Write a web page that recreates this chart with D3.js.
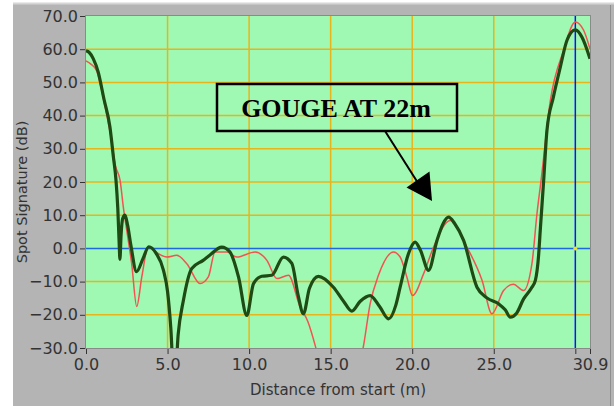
<!DOCTYPE html>
<html>
<head>
<meta charset="UTF-8">
<script src="https://d3js.org/d3.v7.min.js"></script>
<style>
  body { margin: 0; background: #fff; }
  svg { display: block; }
</style>
</head>
<body>
<svg id="chart" width="614" height="406"></svg>
<script>
  // valeurs
  const greenDist = [0, 0.2, 0.45, 0.75, 1.1, 1.47, 1.68, 1.84, 1.95, 2.03, 2.08, 2.15, 2.25, 2.39, 2.55, 2.75, 3.1, 3.5, 3.85, 4.3, 4.75, 5.0, 5.2, 5.35, 5.5, 5.65, 5.97, 6.48, 7.18, 7.6, 8.32, 8.83, 9.35, 9.86, 10.27, 10.78, 11.39, 12.1, 12.62, 13.0, 13.33, 13.7, 14.25, 15.17, 15.8, 16.3, 16.8, 17.42, 18.0, 18.55, 19.0, 19.26, 19.77, 20.18, 20.5, 21.0, 21.52, 21.9, 22.23, 22.6, 23.15, 23.97, 24.58, 25.3, 25.7, 26.01, 26.4, 26.83, 27.3, 27.55, 27.75, 27.85, 28.06, 28.26, 28.65, 29.08, 29.49, 30.0, 30.41, 30.9];
  const greenDb   = [59.5, 59, 57.1, 53.1, 45, 36.5, 27.5, 20.5, 12, 2, -3.3, 4, 9, 10, 7, 1, -7, -3, 0.5, -1.5, -6.6, -13, -24, -36, -36, -26, -15.7, -6.1, -3.6, -2, 0.4, -1.1, -8.6, -20.2, -10.6, -8.4, -8.1, -2.6, -4.5, -14, -19.7, -12, -8.4, -11.7, -16, -18.9, -16, -14.2, -17.5, -21.2, -17, -11.7, -1.6, 1.9, -0.5, -6.6, 2.4, 7.5, 9.4, 7.5, 2.4, -11.7, -14.9, -16.7, -18.5, -20.7, -19.5, -15.2, -12, -9.6, -2, 5.4, 20.5, 35.5, 45.5, 54.6, 62.7, 65.8, 63.6, 57.1];

  const redDist = [0, 0.3, 0.65, 0.9, 1.2, 1.55, 1.8, 2.09, 2.3, 2.5, 2.8, 3.11, 3.42, 3.82, 4.44, 4.95, 5.56, 6.18, 7.0, 7.5, 7.91, 8.63, 9.25, 10.37, 11.09, 11.7, 12.41, 13.13, 13.6, 14.05, 14.4, 15.5, 16.6, 17.0, 17.42, 17.93, 18.85, 19.26, 19.67, 20.02, 20.7, 21.31, 22.33, 23.35, 24.28, 24.89, 25.6, 26.2, 26.83, 27.34, 27.65, 27.9, 28.47, 29.28, 30.0, 30.51, 30.9];
  const redDb   = [56.5, 55.5, 53.5, 49, 42, 33, 25, 20.5, 12, 5.4, -4.6, -17.5, -8.6, 0.6, -1.6, -2.6, -2.1, -4.6, -10.6, -8.6, -1.1, -1.1, -2.6, -1.1, -3.6, -9.1, -8.1, -17.7, -22, -29.2, -36, -42, -38, -29.7, -16.7, -8.1, -1.1, -2.6, -8.6, -14.2, -7.6, 0.4, 8.4, 0.4, -9.6, -19.7, -12.7, -10.8, -12.7, -4.6, 10.5, 20.5, 44.6, 59.6, 68.2, 65.7, 60.1];

  const xTickVals   = [0, 5, 10, 15, 20, 25, 30, 30.9];
  const xTickLabels = ["0.0", "5.0", "10.0", "15.0", "20.0", "25.0", "", "30.9"];
  const yTickVals   = [-30, -20, -10, 0, 10, 20, 30, 40, 50, 60, 70];
  const xGridVals   = [5, 10, 15, 20, 25];
  const yGridVals   = [-20, -10, 10, 20, 30, 40, 50, 60];
  const cursorX = 30, cursorY = 0;

  const svg = d3.select("#chart");
  const pL = 86, pR = 590, pT = 16, pB = 348;

  const x = d3.scaleLinear().domain([0, 30.9]).range([pL, pR]);
  const y = d3.scaleLinear().domain([-30, 70]).range([pB, pT]);

  // panneau gris
  svg.append("rect").attr("x", 13).attr("y", 3).attr("width", 601).attr("height", 403).attr("fill", "#b4b4b4");
  svg.append("line").attr("x1", 13).attr("x2", 614).attr("y1", 3.5).attr("y2", 3.5).attr("stroke", "#d6d6d6").attr("stroke-width", 2);
  svg.append("line").attr("x1", 610.5).attr("x2", 610.5).attr("y1", 5).attr("y2", 406).attr("stroke", "#8e8e8e");

  // zone de tracé
  svg.append("rect").attr("x", pL).attr("y", pT).attr("width", pR - pL).attr("height", pB - pT)
    .attr("fill", "#a0f9b2");

  svg.append("defs").append("clipPath").attr("id", "clip")
    .append("rect").attr("x", pL).attr("y", pT).attr("width", pR - pL).attr("height", pB - pT);

  const grid = svg.append("g").attr("stroke", "#e8b41c").attr("stroke-width", 1.5);
  grid.selectAll(".vx").data(xGridVals).join("line")
    .attr("x1", d => x(d)).attr("x2", d => x(d)).attr("y1", pT).attr("y2", pB);
  grid.selectAll(".hy").data(yGridVals).join("line")
    .attr("x1", pL).attr("x2", pR).attr("y1", d => y(d)).attr("y2", d => y(d));

  // curseurs
  svg.append("line").attr("x1", pL).attr("x2", pR).attr("y1", y(cursorY)).attr("y2", y(cursorY))
    .attr("stroke", "#1f66e0").attr("stroke-width", 1.5);
  svg.append("line").attr("x1", x(cursorX)).attr("x2", x(cursorX)).attr("y1", pT).attr("y2", pB)
    .attr("stroke", "#0a14ff").attr("stroke-width", 1.5);
  svg.append("circle").attr("cx", x(cursorX)).attr("cy", y(cursorY)).attr("r", 2).attr("fill", "#f0e020");

  const line = d3.line().x(d => x(d[0])).y(d => y(d[1])).curve(d3.curveMonotoneX);

  svg.append("path").datum(d3.zip(redDist, redDb))
    .attr("clip-path", "url(#clip)")
    .attr("fill", "none").attr("stroke", "#f25252").attr("stroke-width", 1.5)
    .attr("d", line);

  svg.append("path").datum(d3.zip(greenDist, greenDb))
    .attr("clip-path", "url(#clip)")
    .attr("fill", "none").attr("stroke", "#1e4a14").attr("stroke-width", 3.2)
    .attr("stroke-linejoin", "round")
    .attr("d", line);

  // bord du tracé
  svg.append("rect").attr("x", pL - 0.5).attr("y", pT - 0.5).attr("width", pR - pL + 1).attr("height", pB - pT + 1)
    .attr("fill", "none").attr("stroke", "#8a8a8a");

  // axes
  const yAxis = d3.axisLeft(y).tickValues(yTickVals).tickFormat(d3.format(".1f")).tickSize(5).tickPadding(2);
  const gy = svg.append("g").attr("transform", `translate(${pL - 1},0)`).call(yAxis);
  const xAxis = d3.axisBottom(x).tickValues(xTickVals).tickFormat((d, i) => xTickLabels[i]).tickSize(5).tickPadding(5);
  const gx = svg.append("g").attr("transform", `translate(0,${pB + 1})`).call(xAxis);

  [gx, gy].forEach(g => {
    g.select(".domain").remove();
    g.selectAll("line").attr("stroke", "#333");
    g.selectAll("text").attr("fill", "#333").style("font-family", "DejaVu Sans").style("font-size", "16px");
  });

  svg.append("text").attr("x", (pL + pR) / 2).attr("y", 395).attr("text-anchor", "middle")
    .style("font-family", "DejaVu Sans").style("font-size", "15px").attr("fill", "#333")
    .text("Distance from start (m)");
  svg.append("text").attr("transform", "translate(27,192) rotate(-90)").attr("text-anchor", "middle")
    .style("font-family", "DejaVu Sans").style("font-size", "14.5px").attr("fill", "#333")
    .text("Spot Signature (dB)");

  // annotation
  svg.append("rect").attr("x", 217).attr("y", 84).attr("width", 240).attr("height", 47)
    .attr("fill", "none").attr("stroke", "#000").attr("stroke-width", 2.5);
  svg.append("text").attr("x", 336).attr("y", 117).attr("text-anchor", "middle")
    .style("font-family", "Liberation Serif").style("font-weight", "bold").style("font-size", "26px")
    .text("GOUGE AT 22m");
  svg.append("line").attr("x1", 385).attr("y1", 131).attr("x2", 418).attr("y2", 183)
    .attr("stroke", "#000").attr("stroke-width", 2);
  svg.append("path").attr("d", "M432,201 L406.5,187.5 L429.5,171.5 Z").attr("fill", "#000");
</script>
</body>
</html>
